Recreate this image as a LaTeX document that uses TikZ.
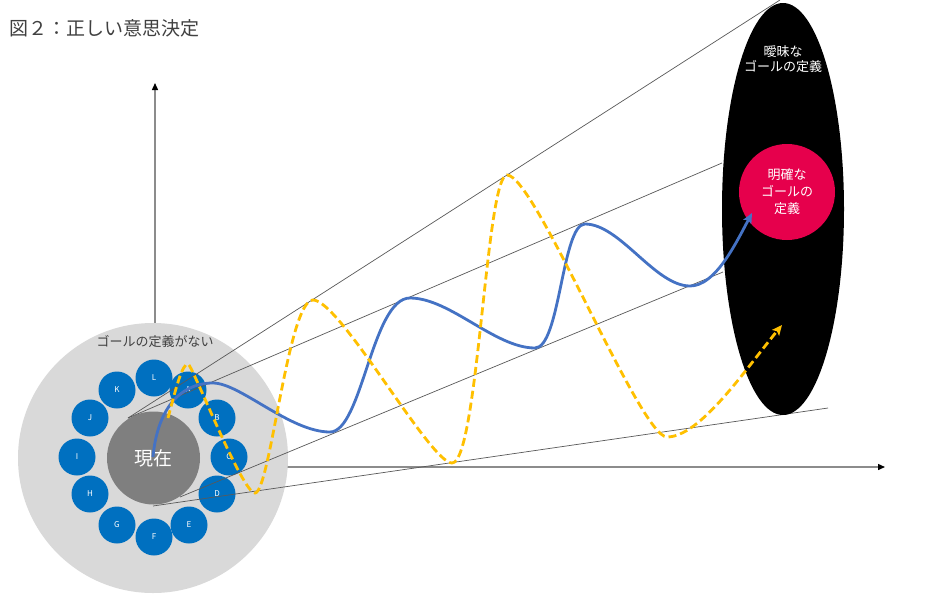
\documentclass[tikz,border=0pt]{standalone}
\usepackage{fontspec}
\setmainfont{Noto Sans CJK JP}
\usetikzlibrary{arrows.meta,shapes.geometric}
\definecolor{ringgray}{RGB}{217,217,217}
\definecolor{nowgray}{RGB}{127,127,127}
\definecolor{optblue}{RGB}{0,112,192}
\definecolor{pathblue}{RGB}{68,114,196}
\definecolor{pathyellow}{RGB}{255,192,0}
\definecolor{goalred}{RGB}{230,0,76}
\definecolor{fanline}{RGB}{89,89,89}
\definecolor{axisgray}{RGB}{140,140,140}
\definecolor{darktext}{RGB}{64,64,64}
\begin{document}
\begin{tikzpicture}[x=1pt,y=-1pt,
  axisline/.style={draw=axisgray, line width=1.4pt, -{Triangle[length=7pt,width=6pt,color=black]}},
  fan/.style={draw=fanline, line width=0.7pt},
  option/.style={circle, fill=optblue, minimum size=37pt, inner sep=0pt, text=white, font=\fontsize{8}{8}\selectfont},
  bluepath/.style={draw=pathblue, line width=2.8pt, -{Stealth[length=10pt,width=9pt,inset=2pt]}},
  yellowpath/.style={draw=pathyellow, line width=2.8pt, dash pattern=on 8pt off 4pt, -{Stealth[length=10pt,width=9pt,inset=2pt]}}]
\useasboundingbox (0,0) rectangle (940,600);
\fill[white] (0,0) rectangle (940,600);

% title
\node[anchor=west, text=darktext, font=\fontsize{19}{19}\selectfont, inner sep=0pt] (title) at (9,28) {図２：正しい意思決定};

% axes
\coordinate (origin) at (155,467);
\coordinate (ytip) at (155,83);
\coordinate (xtip) at (885,467);
\draw[axisline] (origin) -- (ytip);
\draw[axisline] (origin) -- (xtip);

% fan lines (drawn before the goal ellipse)
\coordinate (f1s) at (128,418);
\coordinate (f1e) at (780,0);
\coordinate (f2e) at (722,163);
\coordinate (f3s) at (180,497);
\coordinate (f3e) at (723,272);
\coordinate (f4s) at (153,506);
\coordinate (f4e) at (828,408);

% ring of options
\node[circle, fill=ringgray, minimum size=270pt, inner sep=0pt] (ring) at (153,458) {};
\node[text=darktext, font=\fontsize{13}{13}\selectfont, inner sep=0pt] (nogoal) at (155,341) {ゴールの定義がない};
\node[circle, fill=nowgray, minimum size=93pt, inner sep=0pt, text=white, font=\fontsize{19}{19}\selectfont] (now) at (153.5,458) {現在};
\foreach \n/\x/\y in {A/188/390, B/217/418, C/229/457, D/217/494, E/189/525, F/154/537, G/117/525, H/90/494, I/77/457, J/90/418, K/117/390, L/154/378}
  \node[option] (opt\n) at (\x,\y) {\n};

\draw[fan] (f1s) -- (f1e);
\draw[fan] (f1s) -- (f2e);
\draw[fan] (f3s) -- (f3e);
\draw[fan] (f4s) -- (f4e);

% goal
\node[ellipse, fill=black, minimum width=122pt, minimum height=412pt, inner sep=0pt] (vague) at (783,209) {};
\node[align=center, text=white, font=\fontsize{13}{15}\selectfont, inner sep=0pt] (vaguetext) at (783,59) {曖昧な\\ゴールの定義};
\node[circle, fill=goalred, minimum size=96pt, inner sep=0pt, align=center, text=white, font=\fontsize{13}{17}\selectfont] (clear) at (787,192) {明確な\\ゴールの\\定義};

% paths
\coordinate (bstart) at (153,457);
\coordinate (bend) at (752,213);
\draw[bluepath] (bstart) .. controls (157,412) and (178,383) .. (213,383)
  .. controls (240,383) and (290,432) .. (330,432)
  .. controls (362,432) and (372,298) .. (410,298)
  .. controls (450,298) and (495,348) .. (535,348)
  .. controls (560,348) and (562,224) .. (585,224)
  .. controls (620,224) and (655,286) .. (690,286)
  .. controls (715,286) and (735,245) .. (bend);

\coordinate (ystart) at (168,418);
\coordinate (yend) at (782,325);
\draw[yellowpath] (ystart) .. controls (176,388) and (182,364) .. (188,364)
  .. controls (192,364) and (242,493) .. (255,493)
  .. controls (270,493) and (288,300) .. (313,300)
  .. controls (340,300) and (430,463) .. (452,463)
  .. controls (478,463) and (486,175) .. (507,175)
  .. controls (535,175) and (640,437) .. (667,437)
  .. controls (700,437) and (745,370) .. (yend);
\end{tikzpicture}
\end{document}
